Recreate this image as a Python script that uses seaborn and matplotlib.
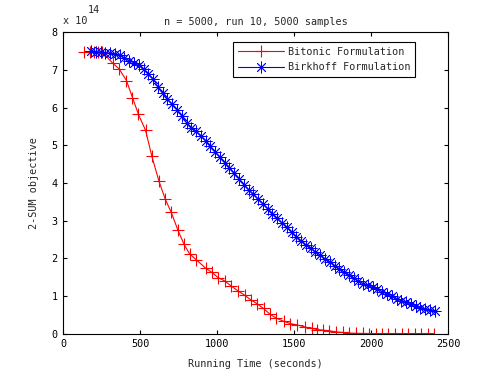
import matplotlib
matplotlib.use("Agg")
import matplotlib.pyplot as plt
import seaborn as sns
import pandas as pd

# ---- data (objective in units of 1e14) ----
bitonic_time = [137, 176, 197, 223, 252, 321, 362, 410, 449, 488, 534, 575, 621, 662,
                701, 744, 783, 820, 864, 924, 964, 1005, 1048, 1092, 1137, 1178, 1217,
                1257, 1300, 1341, 1380, 1430, 1475, 1520, 1569, 1613, 1649, 1689, 1727,
                1771, 1814, 1857, 1901, 1945, 1988, 2031, 2068, 2111, 2155, 2198, 2237,
                2281, 2324, 2368, 2404]
bitonic_obj = [7.49, 7.49, 7.49, 7.49, 7.48, 7.18, 7.03, 6.72, 6.27, 5.82, 5.40, 4.71,
               4.05, 3.57, 3.22, 2.75, 2.38, 2.12, 1.96, 1.74, 1.63, 1.49, 1.40, 1.26,
               1.13, 1.02, 0.90, 0.80, 0.67, 0.52, 0.42, 0.33, 0.27, 0.23, 0.18, 0.14,
               0.11, 0.095, 0.077, 0.05, 0.034, 0.016, 0.01, 0.006, 0.005, 0.005, 0.005,
               0.005, 0.005, 0.005, 0.005, 0.005, 0.005, 0.005, 0.005]

birkhoff_time = [180, 211, 242, 273, 304, 335, 366, 397, 428, 459, 490, 521, 552, 583,
                 614, 645, 676, 707, 738, 769, 800, 831, 862, 893, 924, 955, 986, 1017,
                 1048, 1079, 1110, 1141, 1172, 1203, 1234, 1265, 1296, 1327, 1358, 1389,
                 1420, 1451, 1482, 1513, 1544, 1575, 1606, 1637, 1668, 1699, 1730, 1761,
                 1792, 1823, 1854, 1885, 1916, 1947, 1978, 2009, 2040, 2071, 2102, 2133,
                 2164, 2195, 2226, 2257, 2288, 2319, 2350, 2381, 2412]
birkhoff_obj = [7.50, 7.48, 7.47, 7.45, 7.44, 7.42, 7.39, 7.32, 7.25, 7.19, 7.12, 7.02,
                6.90, 6.76, 6.56, 6.38, 6.22, 6.09, 5.95, 5.79, 5.60, 5.47, 5.37, 5.25,
                5.12, 4.97, 4.82, 4.68, 4.54, 4.41, 4.26, 4.11, 3.96, 3.82, 3.70, 3.57,
                3.45, 3.32, 3.19, 3.06, 2.94, 2.82, 2.69, 2.57, 2.47, 2.36, 2.27, 2.17,
                2.08, 1.99, 1.90, 1.81, 1.72, 1.64, 1.56, 1.48, 1.40, 1.33, 1.28, 1.23,
                1.18, 1.12, 1.05, 0.99, 0.93, 0.88, 0.83, 0.78, 0.73, 0.69, 0.66, 0.62,
                0.61]

x_ticks = [0, 500, 1000, 1500, 2000, 2500]
y_ticks = [0, 1, 2, 3, 4, 5, 6, 7, 8]
title_text = "n = 5000, run 10, 5000 samples"
x_label = "Running Time (seconds)"
y_label = "2-SUM objective"
series_names = ["Bitonic Formulation", "Birkhoff Formulation"]
series_colors = ["#FF0000", "#0000FF"]

sns.set_style("ticks")
plt.rcParams["font.family"] = ["DejaVu Sans Mono"]
FS = 7.3

fig = plt.figure(figsize=(4.95, 3.75), dpi=100)
ax = fig.add_axes([0.1279, 0.1101, 0.7778, 0.8037])

df_b = pd.DataFrame({"t": bitonic_time, "v": bitonic_obj})
df_k = pd.DataFrame({"t": birkhoff_time, "v": birkhoff_obj})

sns.lineplot(data=df_b, x="t", y="v", ax=ax, sort=False, color=series_colors[0],
             marker="+", markersize=9, markeredgewidth=0.8, linewidth=0.8,
             markeredgecolor=series_colors[0], markerfacecolor=series_colors[0],
             label=series_names[0])
sns.lineplot(data=df_k, x="t", y="v", ax=ax, sort=False, color=series_colors[1],
             marker=(8, 2, 0), markersize=8.5, markeredgewidth=0.6, linewidth=0.8,
             markeredgecolor=series_colors[1], markerfacecolor=series_colors[1],
             label=series_names[1])

ax.set_xlim(0, 2500)
ax.set_ylim(0, 8)
ax.set_xticks(x_ticks)
ax.set_yticks(y_ticks)
ax.set_xticklabels([str(v) for v in x_ticks], fontsize=FS)
ax.set_yticklabels([str(v) for v in y_ticks], fontsize=FS)
ax.tick_params(direction="in", top=True, right=True, length=2.8, width=0.8,
               pad=4, colors="black")
for s in ax.spines.values():
    s.set_visible(True)
    s.set_linewidth(0.8)
    s.set_color("black")

ax.set_xlabel(x_label, fontsize=FS, labelpad=7)
ax.set_ylabel(y_label, fontsize=FS, labelpad=9)
ax.set_title(title_text, fontsize=FS, pad=5)

fig.text(63 / 495, 1 - 24 / 375, "x 10", fontsize=FS, ha="left", va="baseline")
fig.text(88 / 495, 1 - 13 / 375, "14", fontsize=FS, ha="left", va="baseline")

leg = ax.legend(loc="upper right", bbox_to_anchor=(0.9135, 0.968), fontsize=FS,
                frameon=True, fancybox=False, framealpha=1, edgecolor="black",
                handlelength=4.6, handletextpad=0.35, borderaxespad=0,
                borderpad=0.45, labelspacing=0.55)
leg.get_frame().set_linewidth(0.8)

fig.savefig("out.png", dpi=100)
